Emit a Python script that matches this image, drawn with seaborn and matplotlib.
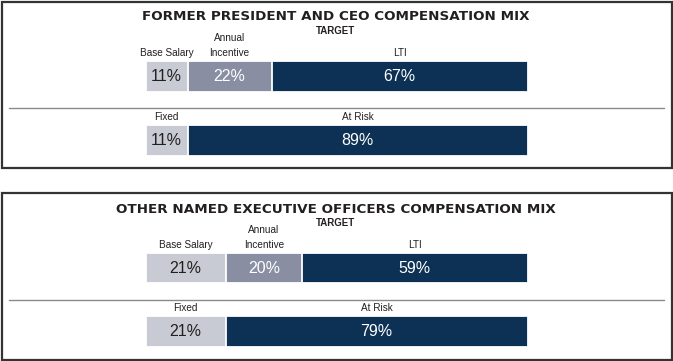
import matplotlib
matplotlib.use("Agg")
import matplotlib.pyplot as plt
import matplotlib.transforms as mtransforms
from matplotlib.patches import Rectangle
import seaborn as sns
import pandas as pd
import numpy as np

sns.set_theme(style="white")
plt.rcParams["font.family"] = ["Liberation Sans", "DejaVu Sans"]

# ---------------- data ----------------
titles = ["FORMER PRESIDENT AND CEO COMPENSATION MIX",
          "OTHER NAMED EXECUTIVE OFFICERS COMPENSATION MIX"]
subtitle = "TARGET"
rows = ["Target", "Mix"]
target_labels = ["Base Salary", "Annual\nIncentive", "LTI"]
mix_labels = ["Fixed", "At Risk"]
ceo_target = [11, 22, 67]
ceo_mix = [11, 89]
neo_target = [21, 20, 59]
neo_mix = [21, 79]

target_colors = ["#c9cbd4", "#898ea3", "#0d3154"]
mix_colors = ["#c9cbd4", "#0d3154"]
text_colors_target = ["#231f20", "white", "white"]
text_colors_mix = ["#231f20", "white"]

W, H = 673, 361
fig = plt.figure(figsize=(W / 100, H / 100), dpi=100)

# pixel geometry
x0_px, x100_px = 145.5, 527.5
pxp = (x100_px - x0_px) / 100.0
xlim = (-x0_px / pxp, (W - x0_px) / pxp)

panels = [
    dict(title=titles[0], target=ceo_target, mix=ceo_mix,
         c0=76.3, step=64.2, box=(1.5, 1.5, 671.5, 167.5),
         title_y=17, sub_y=31.5, sep_y=108.3),
    dict(title=titles[1], target=neo_target, mix=neo_mix,
         c0=268.2, step=63.5, box=(1.5, 192.5, 671.5, 359.5),
         title_y=209.5, sub_y=223.5, sep_y=300.0),
]


def fy(ypx):
    return 1 - ypx / H


for p in panels:
    ax = fig.add_axes([0, 0, 1, 1])
    ax.patch.set_alpha(0)
    bar_h = 30.5 / p["step"]

    # stacked bars via overlapping cumulative seaborn bars (largest first)
    for vals, cols in ((p["target"], target_colors), (p["mix"], mix_colors)):
        row = rows[0] if len(vals) == 3 else rows[1]
        cum = np.cumsum(vals)
        for i in range(len(vals) - 1, -1, -1):
            df = pd.DataFrame({"row": [row], "value": [cum[i]]})
            sns.barplot(data=df, x="value", y="row", order=rows, orient="h",
                        color=cols[i], saturation=1, width=bar_h,
                        edgecolor="white", linewidth=1.3, ax=ax, errorbar=None)

    ax.set_xlim(*xlim)
    ax.set_ylim((H - p["c0"]) / p["step"], -p["c0"] / p["step"])
    ax.set_axis_off()

    trans_lbl = mtransforms.blended_transform_factory(ax.transData, fig.transFigure)

    # value labels and category labels
    for r, (vals, labels, tcols) in enumerate(
            ((p["target"], target_labels, text_colors_target),
             (p["mix"], mix_labels, text_colors_mix))):
        lefts = np.concatenate([[0], np.cumsum(vals)[:-1]])
        for v, l, lab, tc in zip(vals, lefts, labels, tcols):
            cx = l + v / 2
            ax.text(cx, r, f"{v}%", ha="center", va="center", color=tc,
                    fontsize=11.5)
            bar_top_px = p["c0"] + r * p["step"] - 15.25
            ax.text(cx, fy(bar_top_px - 3), lab, transform=trans_lbl,
                    ha="center", va="bottom", fontsize=7.2, color="#231f20",
                    linespacing=1.6)

    # titles
    fig.text(336 / W, fy(p["title_y"]), p["title"], ha="center", va="center",
             fontsize=9.7, fontweight="bold", color="#231f20",
             family=["DejaVu Sans"])
    fig.text(336 / W, fy(p["sub_y"]), subtitle, ha="center", va="center",
             fontsize=7, fontweight="bold", color="#231f20")

    # separator line
    fig.add_artist(plt.Line2D([8.5 / W, 663.5 / W], [fy(p["sep_y"])] * 2,
                              color="#8a8a8a", linewidth=1.0,
                              transform=fig.transFigure))
    # box
    x1, y1, x2, y2 = p["box"]
    fig.add_artist(Rectangle((x1 / W, fy(y2)), (x2 - x1) / W, (y2 - y1) / H,
                             transform=fig.transFigure, fill=False,
                             edgecolor="#333333", linewidth=1.6))

fig.savefig("out.png", dpi=100)
